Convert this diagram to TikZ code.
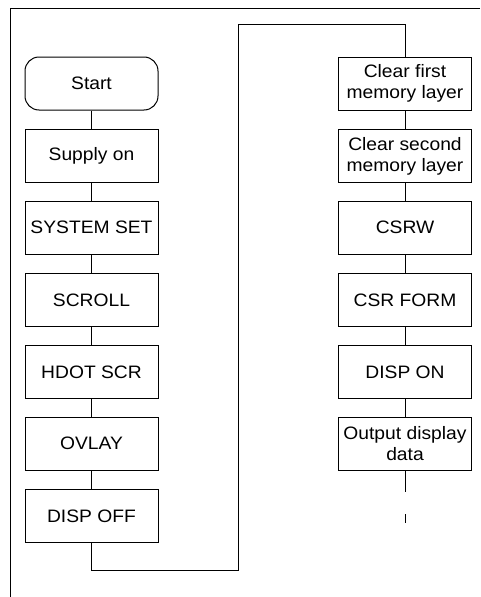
\documentclass[tikz,border=0pt]{standalone}
\usepackage{fontspec}
\setmainfont[FakeStretch=1.07]{Liberation Sans}
\usetikzlibrary{shapes.misc}

\begin{document}
\begin{tikzpicture}[x=1pt, y=-1pt,
    every node/.style={font=\fontsize{18}{20.7}\selectfont},
    procbox/.style={draw=black, line width=1pt, minimum width=133pt, minimum height=53pt, inner sep=0pt, align=center},
    termbox/.style={procbox, rounded corners=14pt},
    flow/.style={draw=black, line width=1pt}]
    \useasboundingbox (0,0) rectangle (480,597);
    \draw[flow] (480,8) -- (10,8) -- (10,597);
    % left column
    \node[termbox] (start) at (91.5, 83.5) {Start};
    \node[procbox] (supply) at (91.5, 155.5) {Supply on};
    \node[procbox] (sysset) at (91.5, 227.8) {SYSTEM SET};
    \node[procbox] (scroll) at (91.5, 299.8) {SCROLL};
    \node[procbox] (hdotscr) at (91.5, 371.8) {HDOT SCR};
    \node[procbox] (ovlay) at (91.5, 443.7) {OVLAY};
    \node[procbox] (dispoff) at (91.5, 515.8) {DISP OFF};
    % right column
    \node[procbox] (clrfirst) at (405, 83.5) {Clear first\\memory layer};
    \node[procbox] (clrsecond) at (405, 156.3) {Clear second\\memory layer};
    \node[procbox] (csrw) at (405, 227.8) {CSRW};
    \node[procbox] (csrform) at (405, 299.8) {CSR FORM};
    \node[procbox] (dispon) at (405, 371.8) {DISP ON};
    \node[procbox] (output) at (405, 443.7) {Output display\\data};
    % connectors
    \draw[flow] (start) -- (supply);
    \draw[flow] (supply) -- (sysset);
    \draw[flow] (sysset) -- (scroll);
    \draw[flow] (scroll) -- (hdotscr);
    \draw[flow] (hdotscr) -- (ovlay);
    \draw[flow] (ovlay) -- (dispoff);
    \coordinate (turnlow) at (238.3, 570);
    \coordinate (turnhigh) at (238.3, 24);
    \draw[flow] (dispoff.south) |- (turnlow) -- (turnhigh) -| (clrfirst.north);
    \draw[flow] (clrfirst) -- (clrsecond);
    \draw[flow] (clrsecond) -- (csrw);
    \draw[flow] (csrw) -- (csrform);
    \draw[flow] (csrform) -- (dispon);
    \draw[flow] (dispon) -- (output);
    \coordinate (tailend) at (405, 491.7);
    \draw[flow] (output.south) -- (tailend);
    \coordinate (dashtop) at (405, 514.3);
    \coordinate (dashbot) at (405, 523.3);
    \draw[flow] (dashtop) -- (dashbot);
\end{tikzpicture}
\end{document}
